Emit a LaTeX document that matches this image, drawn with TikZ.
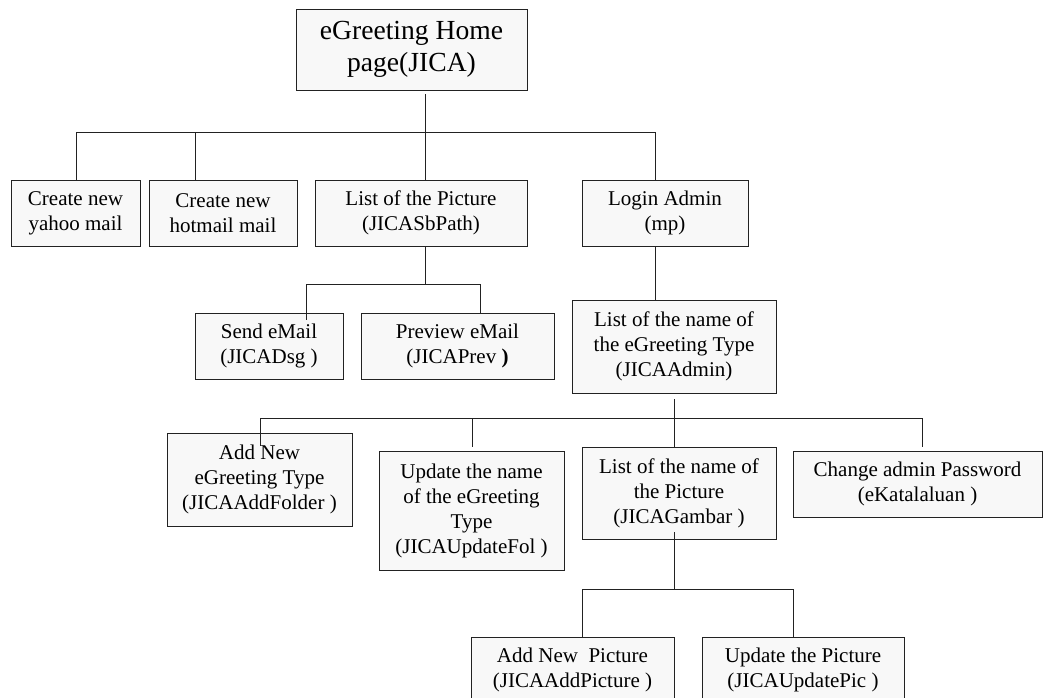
\documentclass[tikz,border=0pt]{standalone}
\usepackage{fontspec}
\setmainfont{Liberation Serif}
\usetikzlibrary{calc}
\definecolor{BoxFill}{HTML}{F8F8F8}
\definecolor{BoxLine}{HTML}{222222}
\tikzset{page/.style={draw=BoxLine,fill=BoxFill,line width=.8pt,inner sep=0pt,align=center,
 font=\fontsize{21}{25}\selectfont},link/.style={draw=BoxLine,line width=.8pt}}
\begin{document}
\begin{tikzpicture}[x=1pt,y=-1pt]
\useasboundingbox (0,0) rectangle (1043,698);
\clip (0,0) rectangle (1043,698);
\node[page,minimum width=231,minimum height=81,font=\fontsize{27.6}{32}\selectfont] (home) at (411.5,49.5) {eGreeting Home\\page(JICA)};
\node[page,minimum width=129,minimum height=66] (yahoo) at (75.5,213) {Create new\\yahoo mail};
\node[page,minimum width=148,minimum height=66] (hotmail) at (223,213) {Create new\\hotmail mail};
\node[page,minimum width=212,minimum height=66] (piclist0) at (421,213) {List of the Picture\\(JICASbPath)};
\node[page,minimum width=166,minimum height=66] (login) at (665,213) {Login Admin\\(mp)};
\node[page,minimum width=148,minimum height=66] (send) at (269,346) {Send eMail\\(JICADsg )};
\node[page,minimum width=193,minimum height=66] (preview) at (457.5,346) {Preview eMail\\(JICAPrev \textbf{)}};
\node[page,minimum width=204,minimum height=93] (typelist) at (674,346.5) {List of the name of\\the eGreeting Type\\(JICAAdmin)};
\node[page,minimum width=185,minimum height=93] (addtype) at (259.5,479.5) {Add New\\eGreeting Type\\(JICAAddFolder )};
\node[page,minimum width=185,minimum height=119] (updtype) at (471.5,510.5) {Update the name\\of the eGreeting\\Type\\(JICAUpdateFol )};
\node[page,minimum width=194,minimum height=92] (piclist) at (679,493) {List of the name of\\the Picture\\(JICAGambar )};
\node[page,minimum width=249,minimum height=66] (passwd) at (917.5,484) {Change admin Password\\(eKatalaluan )};
\node[page,minimum width=203,minimum height=66] (addpic) at (572.5,670) {Add New\ \ Picture\\(JICAAddPicture )};
\node[page,minimum width=202,minimum height=66] (updpic) at (803,670) {Update the Picture\\(JICAUpdatePic )};
% home level
\draw[link] ($(home.south -| 425,0)+(0,4)$) -- (425,132);
\draw[link] (yahoo.north -| 76,0) |- (655,132) -- (login.north -| 655,0);
\draw[link] (hotmail.north -| 195,0) -- (195,132);
\draw[link] (piclist0.north -| 425,0) -- (425,132);
% picture list
\draw[link] (piclist0.south -| 425,0) -- (425,284);
\draw[link] ($(send.north -| 306,0)+(0,7)$) |- (480,284) -- (preview.north -| 480,0);
% admin
\draw[link] (login.south -| 655,0) -- (typelist.north -| 655,0);
\draw[link] ($(typelist.south -| 674,0)+(0,6)$) -- (piclist.north -| 674,0);
\draw[link] ($(addtype.north -| 260,0)+(0,13)$) |- (922,418) -- ($(passwd.north -| 922,0)+(0,-4)$);
\draw[link] (472,418) -- ($(updtype.north -| 472,0)+(0,-4)$);
% picture admin
\draw[link] ($(piclist.south -| 674,0)+(0,-7)$) -- (674,589);
\draw[link] (addpic.north -| 582,0) |- (793,589) -- (updpic.north -| 793,0);
\end{tikzpicture}
\end{document}
